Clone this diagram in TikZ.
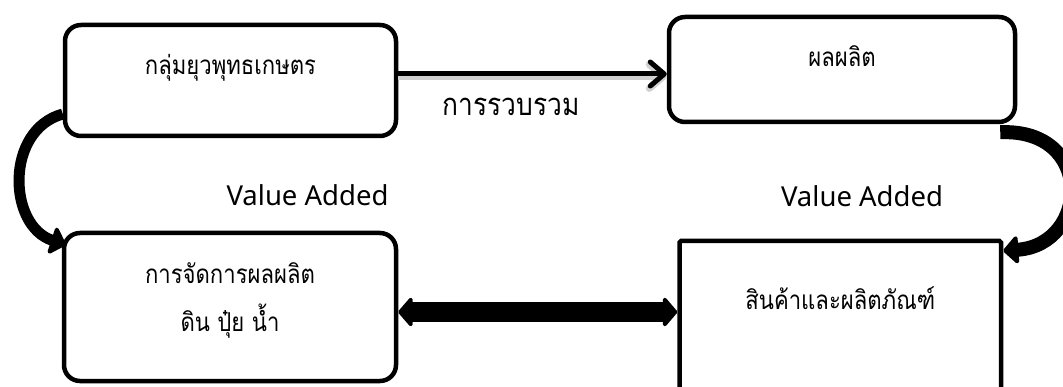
\documentclass[tikz,border=0pt]{standalone}
\usepackage{fontspec}
\newfontfamily\thaifont[Script=Thai, FakeStretch=0.85]{Loma}
\newfontfamily\latinfont{Noto Sans}
\usetikzlibrary{arrows.meta}
\begin{document}
\begin{tikzpicture}[x=1pt,y=-1pt,
  box/.style={draw, line width=4.5pt, rounded corners=16pt, inner sep=0pt, fill=white},
  sqbox/.style={draw, line width=4.5pt, rounded corners=1.5pt, inner sep=0pt, fill=white},
  boxtext/.style={font=\thaifont\fontsize{26pt}{30pt}\selectfont, anchor=base, inner sep=0pt},
  bigtext/.style={font=\thaifont\fontsize{31pt}{36pt}\selectfont, anchor=base, inner sep=0pt},
  vatext/.style={font=\latinfont\fontsize{27.5pt}{33pt}\selectfont, anchor=base, inner sep=0pt},
  thin arrow/.style={line width=5pt, -{Straight Barb[length=14pt,width=24pt,round]}},
  curve arrow/.style={line width=#1, -{Triangle[length=16pt,width=32pt,round]}},
  double arrow/.style={line width=20pt, {Triangle[length=15pt,width=34pt,round]}-{Triangle[length=15pt,width=34pt,round]}}
]
\useasboundingbox (0,0) rectangle (1063,387);
\clip (0,0) rectangle (1063,387);
\fill[white] (0,0) rectangle (1063,387);

% boxes
\node[box, minimum width=331pt, minimum height=111pt] (A) at (230.5,80.5) {};
\node[box, minimum width=346pt, minimum height=105pt] (B) at (842,69.5) {};
\node[box, minimum width=332pt, minimum height=148pt] (C) at (230,307) {};
\node[sqbox, minimum width=321.5pt, minimum height=179pt] (D) at (840.25,330.5) {};

% texts in boxes
\node[boxtext] (tA) at ([yshift=5.5pt]A.center) {กลุ่มยุวพุทธเกษตร};
\node[boxtext] (tB) at ([yshift=2.5pt]B.center) {ผลผลิต};
\node[boxtext] (tC1) at ([yshift=23pt]C.center) {การจัดการผลผลิต};
\node[boxtext] (tC2) at ([yshift=-25pt]C.center) {ดิน ปุ๋ย น้ำ};
\node[boxtext] (tD) at ([yshift=20.5pt]D.center) {สินค้าและผลิตภัณฑ์};

% straight arrow A -> B
\draw[thin arrow, preaction={draw=black!18, line width=7pt, transform canvas={yshift=-2.5pt}}]
  ([yshift=6.5pt]A.east) -- ([yshift=6.5pt]A.east -| B.west)
  node[bigtext, pos=0.42, yshift=-42pt] (lab) {การรวบรวม};

% curved arrows
\draw[curve arrow=11pt] ([yshift=-33.5pt]A.west) .. controls +(-58,16) and +(-58,-19) .. ([xshift=4pt,yshift=-14pt]C.north west);
\draw[curve arrow=14pt] ([xshift=-17pt,yshift=-8pt]B.south east) .. controls +(95,-4) and +(86,-6) .. ([yshift=-12pt]D.north east);

% double arrow C <-> D
\draw[double arrow] ([yshift=-5pt]C.east) -- ([yshift=-5pt]C.east -| D.west);

% labels
\node[vatext] (va1) at (307.5,206) {Value Added};
\node[vatext] (va2) at (862,207) {Value Added};
\end{tikzpicture}
\end{document}
